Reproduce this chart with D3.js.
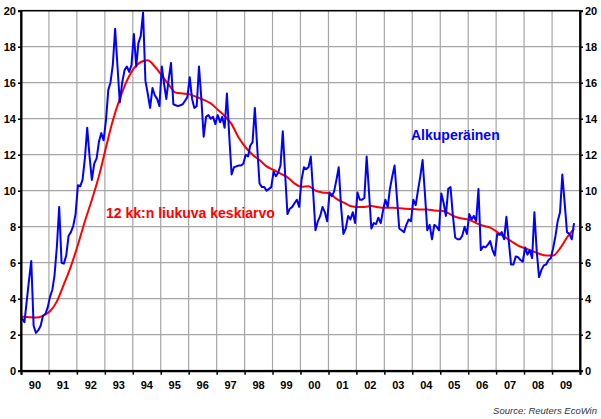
<!DOCTYPE html>
<html>
<head>
<meta charset="utf-8">
<script src="https://cdn.jsdelivr.net/npm/d3@7"></script>
<style>
  body { margin: 0; background: #fff; }
  svg { display: block; font-family: "Liberation Sans", Arial, sans-serif; }
  .grid line { stroke: #a6a6a6; stroke-width: 1.2; }
  .axis-label { font-size: 11px; font-weight: bold; fill: #000; }
</style>
</head>
<body>
<svg id="chart"></svg>
<script>
// monthly series, first value = Jan 1990
const startYear = 1990;
const unemployment = [
  2.9, 2.7, 3.8, 5.0, 6.1, 2.5, 2.1, 2.25, 2.5, 3.05, 3.15, 3.5,      // 1990
  4.1, 4.5, 5.3, 6.9, 9.1, 6.0, 5.95, 6.4, 7.5, 7.7, 8.05, 8.7,       // 1991
  10.3, 10.25, 10.6, 11.8, 13.5, 11.9, 10.6, 11.5, 11.8, 12.7, 13.2, 12.8, // 1992
  13.9, 15.6, 16.0, 17.0, 19.0, 16.9, 14.9, 16.0, 16.7, 16.9, 16.6, 17.0, // 1993
  18.7, 16.9, 18.2, 18.6, 19.9, 16.1, 15.4, 14.6, 15.7, 15.3, 15.1, 14.7, // 1994
  16.9, 15.9, 15.1, 16.2, 17.1, 14.8, 14.75, 14.7, 14.75, 14.8, 15.0, 15.2, // 1995
  16.3, 15.1, 14.6, 14.7, 16.9, 15.1, 13.0, 14.1, 14.2, 14.0, 14.1, 13.7, // 1996
  14.2, 13.8, 14.1, 13.5, 15.4, 13.0, 10.9, 11.3, 11.35, 11.4, 11.4, 11.5, // 1997
  12.0, 11.9, 12.5, 12.7, 14.6, 12.4, 10.4, 10.2, 10.2, 10.0, 10.1, 10.2, // 1998
  11.05, 10.8, 11.0, 11.4, 13.3, 10.9, 8.7, 9.0, 9.1, 9.3, 9.5, 9.1,  // 1999
  10.6, 11.3, 11.2, 11.3, 11.9, 9.9, 7.8, 8.3, 8.6, 9.1, 8.8, 8.3,     // 2000
  9.9, 9.7, 9.95, 10.6, 11.3, 9.1, 7.6, 7.9, 8.6, 8.4, 8.8, 8.2,      // 2001
  9.9, 9.5, 9.5, 9.6, 11.9, 9.9, 7.9, 8.2, 8.15, 8.5, 8.2, 8.9,       // 2002
  9.5, 9.1, 10.1, 10.8, 11.4, 9.6, 7.9, 7.8, 7.7, 8.1, 8.4, 8.3,      // 2003
  9.5, 9.2, 10.0, 10.8, 11.7, 9.8, 7.8, 8.1, 7.3, 8.1, 8.0, 7.8,      // 2004
  9.85, 9.3, 8.6, 10.1, 10.2, 8.6, 7.4, 7.3, 7.3, 7.5, 8.0, 7.6,      // 2005
  8.7, 8.4, 8.6, 8.3, 10.1, 6.7, 6.9, 6.85, 7.0, 7.2, 6.7, 6.4,       // 2006
  7.6, 7.55, 7.7, 7.3, 8.55, 7.2, 5.9, 5.9, 6.35, 6.3, 6.15, 6.05,    // 2007
  6.85, 6.45, 6.7, 6.25, 8.8, 6.6, 5.2, 5.6, 5.85, 5.9, 6.15, 6.25,   // 2008
  6.8, 7.5, 8.3, 8.8, 10.9, 9.3, 7.7, 7.6, 7.3, 8.2                   // 2009
];

// 12-month moving average, read every 3rd month from Jan 1990
const movingAvgStep = 3;
const movingAvg = [
  3.0, 2.97, 2.95, 3.05, 3.3, 3.85, 4.8, 5.8,
  7.0, 8.3, 9.5, 10.8, 12.4, 13.9, 15.1, 16.1,
  16.8, 17.15, 17.25, 16.9, 16.4, 15.9, 15.45, 15.4,
  15.35, 15.2, 15.05, 14.85, 14.5, 14.15, 13.7, 12.95,
  12.4, 12.0, 11.7, 11.35, 11.15, 10.95, 10.75, 10.4,
  10.22, 10.25, 10.0, 9.9, 9.85, 9.55, 9.35, 9.15,
  9.1, 9.1, 9.15, 9.08, 9.05, 9.05, 9.03, 9.0,
  8.98, 8.95, 8.95, 8.9, 8.88, 8.75, 8.55, 8.45,
  8.38, 8.2, 8.05, 7.95, 7.7, 7.45, 7.2, 6.95,
  6.8, 6.65, 6.5, 6.4, 6.4, 6.8, 7.4, 7.9
];

const yearLabels = ["90","91","92","93","94","95","96","97","98","99",
                    "00","01","02","03","04","05","06","07","08","09"];
const yTicks = [0, 2, 4, 6, 8, 10, 12, 14, 16, 18, 20];

const seriesLabel = "Alkuperäinen";
const avgLabel = "12 kk:n liukuva keskiarvo";
const sourceText = "Source: Reuters EcoWin";

const width = 601, height = 419;
const margin = {top: 10.7, right: 21, bottom: 48.3, left: 21};
const blueColor = "#0000ff";
const redColor = "#ff0000";

const svg = d3.select("#chart")
  .attr("width", width)
  .attr("height", height)
  .attr("viewBox", [0, 0, width, height]);

const x = d3.scaleUtc()
  .domain([new Date(Date.UTC(startYear, 0, 1)), new Date(Date.UTC(startYear + yearLabels.length, 0, 1))])
  .range([margin.left, width - margin.right]);

const y = d3.scaleLinear()
  .domain([0, 20])
  .range([height - margin.bottom, margin.top]);

const monthDate = i => new Date(Date.UTC(startYear, i, 15));
const yearStarts = d3.range(yearLabels.length + 1).map(i => new Date(Date.UTC(startYear + i, 0, 1)));

// grid
const grid = svg.append("g").attr("class", "grid");
grid.selectAll(".h")
  .data(yTicks.slice(1, -1))
  .join("line")
  .attr("x1", x.range()[0]).attr("x2", x.range()[1])
  .attr("y1", d => y(d)).attr("y2", d => y(d));
grid.selectAll(".v")
  .data(yearStarts.slice(1, -1))
  .join("line")
  .attr("x1", d => x(d)).attr("x2", d => x(d))
  .attr("y1", y(0)).attr("y2", y(20));

// lines
const blueData = unemployment.map((v, i) => ({date: monthDate(i), value: v}));
const redData = movingAvg.map((v, i) => ({date: monthDate(i * movingAvgStep), value: v}));

svg.append("path")
  .datum(redData)
  .attr("fill", "none")
  .attr("stroke", redColor)
  .attr("stroke-width", 2)
  .attr("d", d3.line().curve(d3.curveMonotoneX)
    .x(d => x(d.date))
    .y(d => y(d.value)));

svg.append("path")
  .datum(blueData)
  .attr("fill", "none")
  .attr("stroke", blueColor)
  .attr("stroke-width", 2)
  .attr("stroke-linejoin", "round")
  .attr("d", d3.line()
    .x(d => x(d.date))
    .y(d => y(d.value)));

// frame
svg.append("rect")
  .attr("x", x.range()[0]).attr("y", y(20))
  .attr("width", x.range()[1] - x.range()[0])
  .attr("height", y(0) - y(20))
  .attr("fill", "none")
  .attr("stroke", "#000")
  .attr("stroke-width", 1.6);

// y axes
const yAxisLeft = g => g
  .attr("transform", `translate(${x.range()[0]},0)`)
  .call(d3.axisLeft(y).tickValues(yTicks).tickSize(3).tickPadding(2))
  .call(g => g.select(".domain").attr("stroke-width", 2));

const yAxisRight = g => g
  .attr("transform", `translate(${x.range()[1]},0)`)
  .call(d3.axisRight(y).tickValues(yTicks).tickSize(3).tickPadding(2))
  .call(g => g.select(".domain").attr("stroke-width", 2));

svg.append("g").call(yAxisLeft);
svg.append("g").call(yAxisRight);

// x axis: ticks at year boundaries, labels centred in each year
const xAxis = g => g
  .attr("transform", `translate(0,${y(0)})`)
  .call(d3.axisBottom(x).tickValues(yearStarts).tickSize(4).tickFormat(""))
  .call(g => g.select(".domain").attr("stroke-width", 2));

svg.append("g").call(xAxis);

svg.selectAll("g.tick text")
  .attr("class", "axis-label")
  .style("font-size", "11px")
  .style("font-weight", "bold")
  .attr("fill", "#000");
svg.selectAll("g.tick line").attr("stroke-width", 1.5);
svg.selectAll("g").attr("font-family", null);

svg.append("g")
  .selectAll("text")
  .data(yearLabels)
  .join("text")
  .attr("class", "axis-label")
  .attr("text-anchor", "middle")
  .attr("x", (d, i) => (x(yearStarts[i]) + x(yearStarts[i + 1])) / 2)
  .attr("y", y(0) + 18.6)
  .text(d => d);

// series labels
svg.append("text")
  .attr("x", 411).attr("y", y(12.8))
  .attr("fill", blueColor)
  .style("font-size", "14px")
  .style("font-weight", "bold")
  .text(seriesLabel);

svg.append("text")
  .attr("x", 106).attr("y", y(8.5))
  .attr("fill", redColor)
  .style("font-size", "14px")
  .style("font-weight", "bold")
  .text(avgLabel);

svg.append("text")
  .attr("x", 597).attr("y", 414)
  .attr("text-anchor", "end")
  .attr("fill", "#333")
  .style("font-size", "9.5px")
  .style("font-style", "italic")
  .text(sourceText);
</script>
</body>
</html>
